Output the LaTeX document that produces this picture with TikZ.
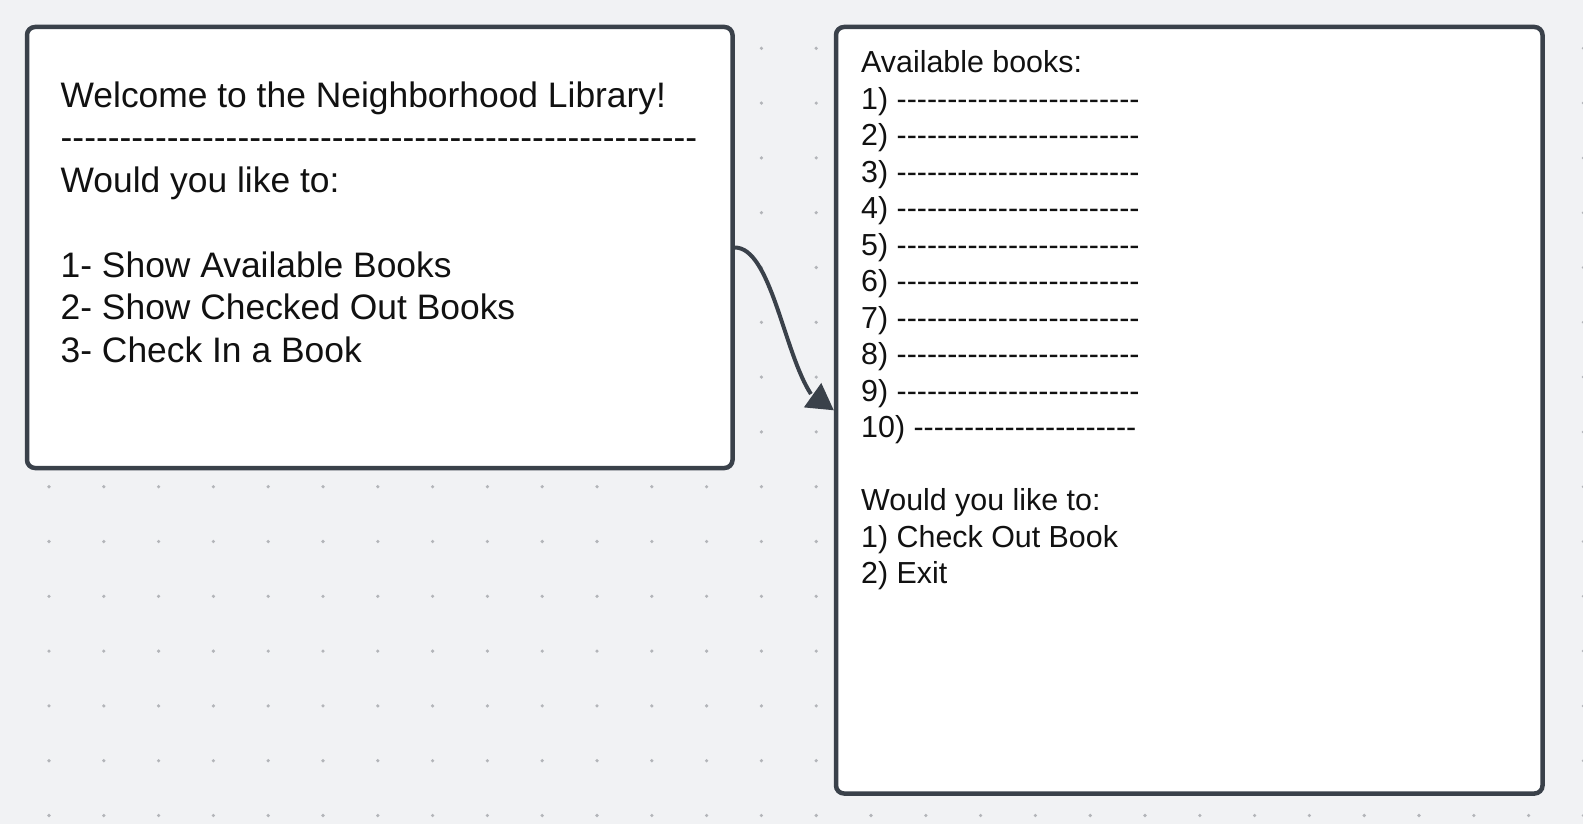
\documentclass[tikz,border=0pt]{standalone}
\usepackage{fontspec}
\newfontfamily\lucid{Liberation Sans}
\usetikzlibrary{arrows.meta,bending,calc}

\definecolor{canvas}{HTML}{F1F2F4}
\definecolor{frame}{HTML}{3A414A}
\definecolor{griddot}{HTML}{B3B5B9}
\definecolor{ink}{HTML}{111111}

\newcommand{\dashrow}[1]{\foreach \k in {1,...,#1}{-}}

\begin{document}
\begin{tikzpicture} [
    x=1pt, y=-1pt,
    screen/.style    = { rectangle, draw=frame, fill=white, line width=4.5pt,
                         rounded corners=8pt, inner sep=0pt },
    bigtext/.style   = { anchor=base west, inner sep=0pt, align=left, text=ink,
                         font={\lucid\fontsize{35.4}{42.5}\selectfont} },
    smalltext/.style = { anchor=base west, inner sep=0pt, align=left, text=ink,
                         font={\lucid\fontsize{30.4}{36.5}\selectfont} },
    line/.style      = { draw=frame, line width=4pt,
                         -{Triangle[length=26pt,width=30pt,line width=0pt,flex]} },
  ]

  % canvas and dot grid
  \path[use as bounding box, fill=canvas] (0,0) rectangle (1583,824);
  \foreach \i in {0,...,28}
    \foreach \j in {0,...,14}
      \fill[griddot] (49+54.8*\i, 48.3+54.8*\j) circle (1.8pt);

  % the two screens
  \node[screen, minimum width=705.5pt, minimum height=441pt] (menu) at (379.75,247.5) {};
  \node[screen, minimum width=706.5pt, minimum height=766.5pt] (books) at (1189.25,410.25) {};

  % screen texts (base = last line)
  \node[bigtext] (menutext) at ($(menu.north west)+(35.75,337.25)$) {Welcome to the Neighborhood Library!\\
\dashrow{54}\\
Would you like to:\\
~\\
1- Show Available Books\\
2- Show Checked Out Books\\
3- Check In a Book};
  \node[smalltext] (bookstext) at ($(books.north west)+(27.25,558.75)$) {Available books:\\
1) \dashrow{24}\\
2) \dashrow{24}\\
3) \dashrow{24}\\
4) \dashrow{24}\\
5) \dashrow{24}\\
6) \dashrow{24}\\
7) \dashrow{24}\\
8) \dashrow{24}\\
9) \dashrow{24}\\
10) \dashrow{22}\\
~\\
Would you like to:\\
1) Check Out Book\\
2) Exit};

  % connect the screens
  \path [line] (menu.east) .. controls +(45,0) and +(-45,0) .. (books.west);
\end{tikzpicture}
\end{document}
